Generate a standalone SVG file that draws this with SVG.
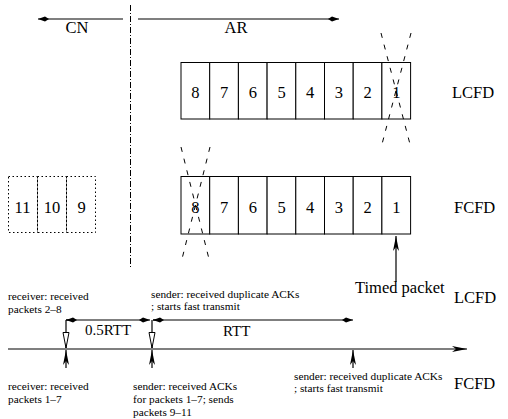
<svg xmlns="http://www.w3.org/2000/svg" width="508" height="419" viewBox="0 0 508 419">
  <style>
    text { font-family: "Liberation Serif", "Times New Roman", Times, "DejaVu Serif", serif; fill: #000; }
    .big { font-size: 16.5px; }
    .num { font-size: 16.5px; text-anchor: middle; }
    .mid { font-size: 15px; }
    .small { font-size: 11.3px; }
    .box { fill: #fff; stroke: #000; stroke-width: 1; }
    .dotbox { fill: none; stroke: #000; stroke-width: 1; stroke-dasharray: 1.5 2.5; }
    .cross { stroke: #000; stroke-width: 1; stroke-dasharray: 5 7; fill: none; }
    .line { stroke: #000; stroke-width: 1.2; fill: none; }
  </style>
  <defs>
    <marker id="lance" markerUnits="userSpaceOnUse" markerWidth="14" markerHeight="8" refX="11" refY="4" orient="auto">
      <path d="M0,4 L4,1.5 L11,4 L4,6.5 Z" fill="#000"/>
    </marker>
    <marker id="spear" markerUnits="userSpaceOnUse" markerWidth="16" markerHeight="8" refX="15" refY="4" orient="auto">
      <path d="M0,1 L15,4 L0,7 L4,4 Z" fill="#000"/>
    </marker>
    <marker id="hollow" markerUnits="userSpaceOnUse" markerWidth="18" markerHeight="8" refX="16" refY="4" orient="auto">
      <path d="M0.5,1 L16,4 L0.5,7 Z" fill="#fff" stroke="#000" stroke-width="1"/>
    </marker>
  </defs>

  <!-- domain divider and labels -->
  <g id="domains">
    <line x1="130.5" y1="5" x2="130.5" y2="268" stroke="#000" stroke-width="1" stroke-dasharray="6 2 1 2"/>
    <line class="line" x1="123" y1="19" x2="38" y2="19" marker-end="url(#lance)"/>
    <line class="line" x1="138" y1="19" x2="339" y2="19" marker-end="url(#lance)"/>
    <text class="big" x="77" y="33" text-anchor="middle">CN</text>
    <text class="big" x="236" y="33" text-anchor="middle">AR</text>
  </g>

  <!-- LCFD queue -->
  <g id="lcfd-queue">
    <rect class="box" x="181" y="62.5" width="28.7" height="56.5"/>
    <rect class="box" x="209.7" y="62.5" width="28.7" height="56.5"/>
    <rect class="box" x="238.4" y="62.5" width="28.7" height="56.5"/>
    <rect class="box" x="267.1" y="62.5" width="28.7" height="56.5"/>
    <rect class="box" x="295.8" y="62.5" width="28.7" height="56.5"/>
    <rect class="box" x="324.5" y="62.5" width="28.7" height="56.5"/>
    <rect class="box" x="353.2" y="62.5" width="28.7" height="56.5"/>
    <rect class="box" x="381.9" y="62.5" width="28.7" height="56.5"/>
    <text class="num" x="195.4" y="98">8</text>
    <text class="num" x="224.1" y="98">7</text>
    <text class="num" x="252.8" y="98">6</text>
    <text class="num" x="281.5" y="98">5</text>
    <text class="num" x="310.2" y="98">4</text>
    <text class="num" x="338.9" y="98">3</text>
    <text class="num" x="367.6" y="98">2</text>
    <text class="num" x="396.3" y="98">1</text>
    <line class="cross" x1="381" y1="33" x2="411" y2="148"/>
    <line class="cross" x1="411" y1="33" x2="381" y2="148"/>
    <text class="big" x="452" y="98">LCFD</text>
  </g>

  <!-- FCFD queue -->
  <g id="fcfd-queue">
    <rect class="box" x="181" y="176.5" width="28.7" height="57.5"/>
    <rect class="box" x="209.7" y="176.5" width="28.7" height="57.5"/>
    <rect class="box" x="238.4" y="176.5" width="28.7" height="57.5"/>
    <rect class="box" x="267.1" y="176.5" width="28.7" height="57.5"/>
    <rect class="box" x="295.8" y="176.5" width="28.7" height="57.5"/>
    <rect class="box" x="324.5" y="176.5" width="28.7" height="57.5"/>
    <rect class="box" x="353.2" y="176.5" width="28.7" height="57.5"/>
    <rect class="box" x="381.9" y="176.5" width="28.7" height="57.5"/>
    <text class="num" x="195.4" y="213">8</text>
    <text class="num" x="224.1" y="213">7</text>
    <text class="num" x="252.8" y="213">6</text>
    <text class="num" x="281.5" y="213">5</text>
    <text class="num" x="310.2" y="213">4</text>
    <text class="num" x="338.9" y="213">3</text>
    <text class="num" x="367.6" y="213">2</text>
    <text class="num" x="396.3" y="213">1</text>
    <line class="cross" x1="181" y1="147" x2="210" y2="263"/>
    <line class="cross" x1="210" y1="147" x2="181" y2="263"/>
    <text class="big" x="454" y="213">FCFD</text>
  </g>

  <!-- packets waiting at the CN -->
  <g id="pending">
    <rect class="dotbox" x="8.5" y="176.5" width="29" height="56"/>
    <rect class="dotbox" x="37.5" y="176.5" width="29" height="56"/>
    <rect class="dotbox" x="66.5" y="176.5" width="29" height="56"/>
    <text class="num" x="22.5" y="213">11</text>
    <text class="num" x="52" y="213">10</text>
    <text class="num" x="81.5" y="213">9</text>
  </g>

  <!-- timed packet pointer -->
  <g id="timed-packet">
    <line class="line" x1="396" y1="282" x2="396" y2="236" marker-end="url(#spear)"/>
    <text class="big" x="355" y="293">Timed packet</text>
  </g>

  <!-- timelines and intervals -->
  <g id="connectors">
    <line class="line" x1="8" y1="349" x2="467" y2="349" marker-end="url(#spear)"/>
    <line class="line" x1="75" y1="320" x2="66" y2="320" marker-end="url(#lance)"/>
    <line class="line" x1="66" y1="320" x2="150" y2="320" marker-end="url(#lance)"/>
    <line class="line" x1="162" y1="320" x2="153" y2="320" marker-end="url(#lance)"/>
    <line class="line" x1="153" y1="320" x2="353" y2="320" marker-end="url(#lance)"/>
    <line class="line" x1="66" y1="320" x2="66" y2="348" marker-end="url(#hollow)"/>
    <line class="line" x1="152" y1="320" x2="152" y2="348" marker-end="url(#hollow)"/>
    <line class="line" x1="66" y1="368" x2="66" y2="350" marker-end="url(#spear)"/>
    <line class="line" x1="152" y1="368" x2="152" y2="350" marker-end="url(#spear)"/>
    <line class="line" x1="353" y1="368" x2="353" y2="350" marker-end="url(#spear)"/>
  </g>

  <!-- event annotations -->
  <g id="labels">
    <text class="mid" x="85" y="335">0.5RTT</text>
    <text class="mid" x="223" y="336">RTT</text>
    <text class="big" x="454" y="303">LCFD</text>
    <text class="big" x="454" y="389">FCFD</text>
    <text class="small" x="8" y="300">receiver: received</text>
    <text class="small" x="8" y="313">packets 2–8</text>
    <text class="small" x="151" y="298">sender: received duplicate ACKs</text>
    <text class="small" x="151" y="310">; starts fast transmit</text>
    <text class="small" x="8" y="390">receiver: received</text>
    <text class="small" x="8" y="403">packets 1–7</text>
    <text class="small" x="133" y="390">sender: received ACKs</text>
    <text class="small" x="133" y="403">for packets 1–7; sends</text>
    <text class="small" x="133" y="416">packets 9–11</text>
    <text class="small" x="294" y="380">sender: received duplicate ACKs</text>
    <text class="small" x="294" y="392">; starts fast transmit</text>
  </g>
</svg>
